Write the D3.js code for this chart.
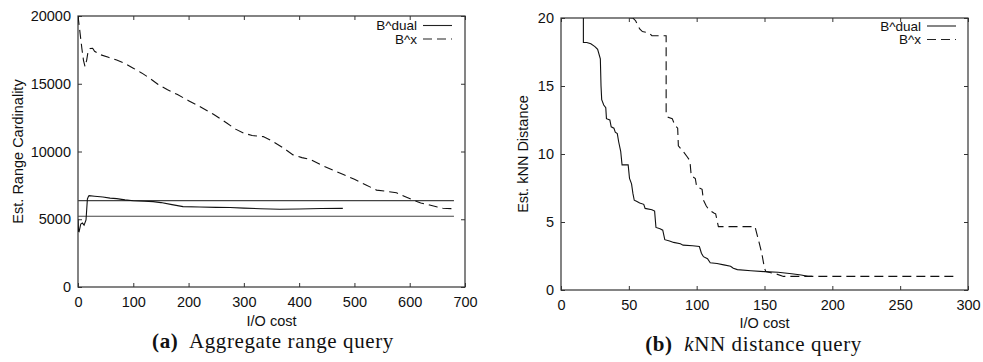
<!DOCTYPE html>
<html>
<head>
<meta charset="utf-8">
<script src="https://cdn.jsdelivr.net/npm/d3@7"></script>
<style>
  body { margin: 0; background: #fff; }
  svg text { font-family: "Liberation Sans", Arial, sans-serif; fill: #111; }
  .tick line { stroke: #333; }
  .caption { font-family: "Liberation Serif", "Times New Roman", serif; }
</style>
</head>
<body>
<div id="chart"></div>
<script>
// ---- data: (a) aggregate range query ----
const aDualX = [0, 1, 2, 5, 8, 11, 14.5, 17, 19, 20, 30, 45, 58, 70, 85, 100, 120, 136, 150, 170, 190, 220, 250, 275, 300, 330, 365, 400, 440, 479];
const aDualY = [5000, 4100, 4080, 4650, 4720, 4570, 4950, 6500, 6700, 6740, 6700, 6640, 6560, 6520, 6430, 6370, 6330, 6300, 6230, 6080, 5930, 5900, 5880, 5870, 5820, 5780, 5740, 5760, 5790, 5800];
const aXX = [0, 3, 7, 10, 12.7, 15.7, 18.7, 22, 26.5, 30, 40, 55, 70, 85, 100, 115, 130, 145, 162, 180, 200, 221, 245, 269, 285, 300, 315, 335, 350, 370, 389, 405, 420, 440, 461, 480, 500, 520, 540, 560, 576, 590, 606, 620, 636, 650, 660, 680];
const aXY = [20000, 19000, 17600, 16700, 16260, 16750, 17490, 17600, 17620, 17400, 17150, 16950, 16750, 16500, 16150, 15800, 15400, 14950, 14550, 14200, 13750, 13300, 12750, 12100, 11650, 11350, 11180, 11100, 10800, 10300, 9750, 9550, 9420, 9000, 8630, 8300, 7950, 7550, 7150, 7050, 6960, 6700, 6420, 6200, 6050, 5900, 5810, 5780];
const aBounds = [6370, 5220];
const aBoundsX = [0, 680];
const aXTicks = [0, 100, 200, 300, 400, 500, 600, 700];
const aYTicks = [0, 5000, 10000, 15000, 20000];

// ---- data: (b) kNN distance query ----
const bDualX = [16.5, 16.5, 19, 22, 25, 27, 29, 29.5, 30, 31.5, 33, 33.5, 36, 37, 39, 40, 41.5, 42.5, 44, 45, 49.5, 50.5, 52, 53, 54, 56, 58, 61, 62, 67, 69, 70, 73, 75, 76.5, 80, 83, 88, 90, 97, 102, 103.5, 105, 108, 110, 115, 120, 125, 127, 130, 140, 150, 160, 170, 177, 182, 185];
const bDualY = [20, 18.2, 18.2, 18.1, 17.9, 17.7, 17.0, 15, 14, 13.6, 13.4, 12.6, 12.5, 12.0, 11.9, 11.6, 11.5, 10.9, 10.2, 9.2, 9.2, 8.2, 7.8, 7.1, 6.6, 6.5, 6.4, 6.3, 6.0, 5.9, 5.8, 4.6, 4.5, 4.4, 3.7, 3.6, 3.5, 3.4, 3.3, 3.25, 3.2, 2.7, 2.45, 2.3, 2.0, 1.95, 1.85, 1.75, 1.6, 1.5, 1.42, 1.35, 1.3, 1.2, 1.1, 1.0, 1.0];
const bXX = [51, 53, 55, 56, 58, 60, 65, 67, 77.5, 77.5, 79, 82, 84, 86, 86.5, 90, 93, 95, 96, 99, 100, 104, 105, 107, 109, 113, 114, 116, 143, 146, 148, 150, 151, 158, 164, 292];
const bXY = [20, 20, 19.8, 19.6, 19.2, 19.0, 18.9, 18.7, 18.7, 13.0, 12.7, 12.6, 12.1, 11.9, 10.6, 10.2, 9.8, 9.5, 8.4, 8.2, 7.6, 7.4, 6.6, 6.2, 5.9, 5.65, 5.6, 4.66, 4.66, 3.5, 2.7, 1.6, 1.35, 1.2, 1.0, 1.0];
const bXTicks = [0, 50, 100, 150, 200, 250, 300];
const bYTicks = [0, 5, 10, 15, 20];

const seriesNames = ["B^dual", "B^x"];

const svg = d3.select("#chart").append("svg")
    .attr("width", 983)
    .attr("height", 362);

function zip(xs, ys) { return xs.map((x, i) => [x, ys[i]]); }

function panel(opt) {
    const w = opt.right - opt.left, h = opt.bottom - opt.top;
    const g = svg.append("g").attr("transform", "translate(" + opt.left + "," + opt.top + ")");

    const x = d3.scaleLinear().domain(opt.xDomain).range([0, w]);
    const y = d3.scaleLinear().domain(opt.yDomain).range([h, 0]);

    g.append("clipPath").attr("id", opt.id + "-clip")
        .append("rect").attr("width", w).attr("height", h);

    // axes with inward ticks, mirrored on top/right
    const fs = "14.5px";
    g.append("g").attr("transform", "translate(0," + h + ")")
        .call(d3.axisBottom(x).tickValues(opt.xTicks).tickSize(-4).tickPadding(10).tickFormat(d3.format("d")));
    g.append("g")
        .call(d3.axisLeft(y).tickValues(opt.yTicks).tickSize(-4).tickPadding(7).tickFormat(d3.format("d")));
    g.append("g").call(d3.axisTop(x).tickValues(opt.xTicks).tickSize(-4).tickFormat(""));
    g.append("g").attr("transform", "translate(" + w + ",0)")
        .call(d3.axisRight(y).tickValues(opt.yTicks).tickSize(-4).tickFormat(""));
    g.selectAll(".domain").remove();
    g.selectAll(".tick text").attr("font-size", fs).attr("font-family", "Liberation Sans, Arial, sans-serif").attr("fill", "#111");

    g.append("rect").attr("width", w).attr("height", h)
        .attr("fill", "none").attr("stroke", "#333").attr("stroke-width", 1.2);

    const line = d3.line().x(d => x(d[0])).y(d => y(d[1]));
    const plot = g.append("g").attr("clip-path", "url(#" + opt.id + "-clip)");

    (opt.hlines || []).forEach(v => {
        plot.append("path")
            .attr("d", line([[opt.hlinesX[0], v], [opt.hlinesX[1], v]]))
            .attr("fill", "none").attr("stroke", "#444").attr("stroke-width", 1.2);
    });

    plot.append("path").attr("d", line(opt.dual))
        .attr("fill", "none").attr("stroke", "#111").attr("stroke-width", 1.1);
    plot.append("path").attr("d", line(opt.bx))
        .attr("fill", "none").attr("stroke", "#111").attr("stroke-width", 1.1)
        .attr("stroke-dasharray", "9,5");

    // legend (top-right, inside the frame)
    seriesNames.forEach((name, i) => {
        const ly = opt.legendY - opt.top + i * 13.5;
        g.append("text").attr("x", opt.legendX - opt.left).attr("y", ly + 4.5)
            .attr("text-anchor", "end").attr("font-size", "13.5px").text(name);
        g.append("line")
            .attr("x1", opt.legendX - opt.left + 6).attr("x2", opt.legendX - opt.left + 35)
            .attr("y1", ly).attr("y2", ly)
            .attr("stroke", "#222").attr("stroke-width", 1.1)
            .attr("stroke-dasharray", i === 0 ? null : "9,5");
    });

    // axis titles
    g.append("text").attr("x", w / 2).attr("y", h + opt.xTitleDy)
        .attr("text-anchor", "middle").attr("font-size", fs).text("I/O cost");
    g.append("text")
        .attr("transform", "translate(" + (opt.yTitleX - opt.left) + "," + (h / 2) + ") rotate(-90)")
        .attr("text-anchor", "middle").attr("font-size", fs).text(opt.yTitle);

    return g;
}

panel({
    id: "a", left: 78, right: 465, top: 16, bottom: 287,
    xDomain: [0, 700], yDomain: [0, 20000],
    xTicks: aXTicks, yTicks: aYTicks,
    dual: zip(aDualX, aDualY), bx: zip(aXX, aXY),
    hlines: aBounds, hlinesX: aBoundsX,
    legendX: 417, legendY: 25.5,
    xTitleDy: 39, yTitleX: 23, yTitle: "Est. Range Cardinality"
});

panel({
    id: "b", left: 561, right: 968, top: 18, bottom: 290,
    xDomain: [0, 300], yDomain: [0, 20],
    xTicks: bXTicks, yTicks: bYTicks,
    dual: zip(bDualX, bDualY), bx: zip(bXX, bXY),
    legendX: 921, legendY: 26,
    xTitleDy: 38, yTitleX: 528, yTitle: "Est. kNN Distance"
});

// captions
const capA = svg.append("text").attr("class", "caption")
    .attr("x", 273).attr("y", 348).attr("text-anchor", "middle")
    .attr("font-size", "21px").attr("letter-spacing", "0.6px");
capA.append("tspan").attr("font-weight", "bold").text("(a)");
capA.append("tspan").text("\u00a0 Aggregate range query");

const capB = svg.append("text").attr("class", "caption")
    .attr("x", 753.5).attr("y", 351).attr("text-anchor", "middle")
    .attr("font-size", "21px").attr("letter-spacing", "0.6px");
capB.append("tspan").attr("font-weight", "bold").text("(b)");
capB.append("tspan").text("\u00a0 ");
capB.append("tspan").attr("font-style", "italic").text("k");
capB.append("tspan").text("NN distance query");
</script>
</body>
</html>
